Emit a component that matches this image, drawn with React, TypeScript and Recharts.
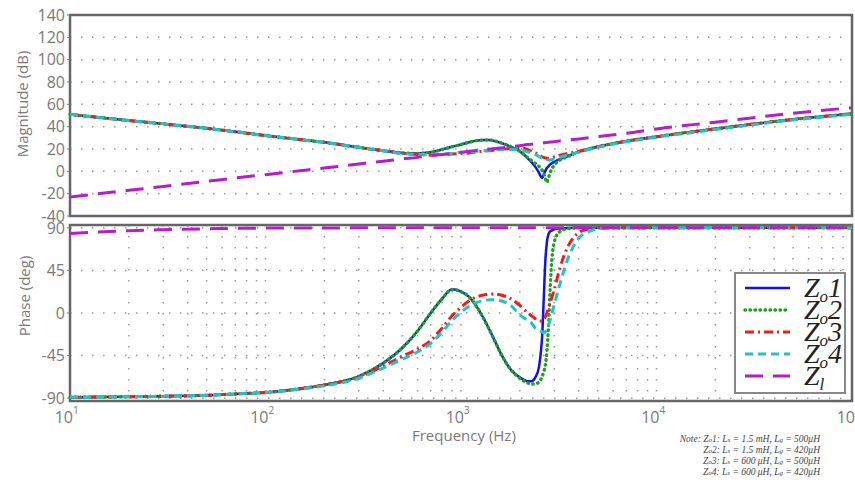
import {
  LineChart,
  Line,
  XAxis,
  YAxis,
  CartesianGrid,
  ReferenceArea,
  Legend,
  Label,
} from "recharts";

// frequency points (Hz)
const freq = [
  10, 20, 30, 50, 70, 100, 150, 200, 300, 400, 500, 600, 700, 800, 900, 1000, 1100, 1200, 1300,
  1400, 1500, 1600, 1800, 2000, 2200, 2300, 2400, 2500, 2550, 2600, 2650, 2700, 2750, 2800, 2850,
  2900, 3000, 3200, 3500, 4000, 4500, 5000, 7000, 10000, 20000, 50000, 100000,
];

// magnitude (dB)
const magZo1 = [
  51, 45.5, 42.5, 38.5, 35.5, 32, 28.5, 26, 21.5, 18.5, 16.5, 16, 17, 19.5, 22, 24, 26, 27.5, 28,
  28, 27, 25.5, 22, 18, 11.5, 8, 4, -1, -4, -6, -3, 0.5, 3, 4.5, 6, 7, 8.5, 11, 13.5, 17.5, 20, 22,
  27, 31, 38, 46.5, 51.5,
];
const magZo2 = [
  51, 45.5, 42.5, 38.5, 35.5, 32, 28.5, 26, 21.5, 18.5, 16.5, 16, 17, 19.5, 22, 24, 26, 27.5, 28,
  28, 27, 25.5, 22, 18, 12, 9.5, 7, 4.5, 3, 1, -2, -6, -10, -6, -2, 1.5, 5.5, 10, 13, 17.5, 20, 22,
  27, 31, 38, 46.5, 51.5,
];
const magZo3 = [
  51, 45.5, 42.5, 38.5, 35.5, 32, 28.5, 26, 21.5, 18.5, 16, 15, 14.5, 15, 15.5, 16, 16.5, 17.5, 18,
  18.5, 19, 19.5, 20.5, 21, 19.5, 18, 16.5, 15, 14, 13, 12.5, 12, 11.8, 11.6, 11.8, 12.2, 13, 14.5,
  16, 18, 20, 22, 27, 31, 38, 46.5, 51.5,
];
const magZo4 = [
  51, 45.5, 42.5, 38.5, 35.5, 32, 28.5, 26, 21.5, 18.5, 16, 15, 15, 15.5, 16, 17, 17.5, 18, 18.5,
  19, 19.5, 19.5, 19.5, 19, 17.5, 16.5, 15, 13.5, 12.8, 12, 11.5, 11, 10.5, 10.2, 10.2, 10.5, 11,
  12.5, 14.5, 17, 19.5, 21.5, 26.5, 30.5, 37.5, 46, 51,
];
const magZl = [
  -23, -17, -13.5, -9, -6, -3, 0.5, 3, 6.5, 9, 11, 12.5, 14, 15, 16, 17, 18, 18.7, 19.3, 20, 20.5,
  21, 22, 23, 24, 24.3, 24.7, 25, 25.2, 25.4, 25.5, 25.7, 25.9, 26, 26.2, 26.3, 26.6, 27.2, 28, 29,
  30, 31, 34, 38, 44, 52, 57,
];

// phase (deg)
const phZo1 = [
  -89, -88.5, -88, -87, -85.5, -84, -80, -76, -67, -53, -37, -19, 0, 15, 25, 22.5, 17, 7, -5, -18,
  -31, -43, -60, -68, -72, -72, -68, -58, -45, -25, 15, 55, 75, 83, 86, 87, 88.5, 89.3, 89.7, 90,
  90, 90, 90, 90, 90, 90, 90,
];
const phZo2 = [
  -89, -88.5, -88, -87, -85.5, -84, -80, -76, -67, -53, -37, -19, 0, 15, 25, 22.5, 17, 7, -5, -18,
  -31, -43, -60, -69, -74, -75, -75, -73, -71, -67, -62, -55, -40, -15, 20, 50, 75, 86, 89, 90, 90,
  90, 90, 90, 90, 90, 90,
];
const phZo3 = [
  -89, -88.5, -88, -87, -85.5, -84, -80, -76, -68, -56, -46, -38, -29, -16, -3, 6, 13, 17, 19, 20,
  20, 19, 15, 8, 0, -3, -6, -8, -8.5, -8.5, -7, -4, 0, 5, 10, 15, 25, 47, 69, 85, 89, 90, 90, 90,
  90, 90, 90,
];
const phZo4 = [
  -89, -88.5, -88, -87, -85.5, -84, -80.5, -77, -69, -58, -49, -41, -32, -20, -8, 1, 7, 11, 13, 14,
  14, 13, 8, -2, -8, -11, -16, -18, -19, -20, -21, -20, -17, -13, -8, -2, 9, 30, 56, 79, 86, 89, 90,
  90, 90, 90, 90,
];
const phZl = [
  84, 87, 88, 89, 89.5, 89.7, 89.8, 89.9, 90, 90, 90, 90, 90, 90, 90, 90, 90, 90, 90, 90, 90, 90,
  90, 90, 90, 90, 90, 90, 90, 90, 90, 90, 90, 90, 90, 90, 90, 90, 90, 90, 90, 90, 90, 90, 90, 90,
  90,
];

const magTicks = [-40, -20, 0, 20, 40, 60, 80, 100, 120, 140];
const phaseTicks = [-90, -45, 0, 45, 90];
const decadeTicks = [10, 100, 1000, 10000, 100000];
const gridTicks = [
  10, 20, 30, 40, 50, 60, 70, 80, 90, 100, 200, 300, 400, 500, 600, 700, 800, 900, 1000, 2000, 3000,
  4000, 5000, 6000, 7000, 8000, 9000, 10000, 20000, 30000, 40000, 50000, 60000, 70000, 80000, 90000,
  100000,
];

const series = [
  { key: "zo1", sub: "o", num: "1", color: "#1010f0", dash: undefined, width: 2.5, cap: "butt" },
  { key: "zo2", sub: "o", num: "2", color: "#1fa01f", dash: "0.5 4.5", width: 3.4, cap: "round" },
  { key: "zo3", sub: "o", num: "3", color: "#f01c1c", dash: "9 4 2 4", width: 3, cap: "butt" },
  { key: "zo4", sub: "o", num: "4", color: "#22c2c6", dash: "8 5", width: 3, cap: "butt" },
  { key: "zl", sub: "l", num: "", color: "#b51ec9", dash: "18 10", width: 3, cap: "butt" },
];

const magData = freq.map((f, i) => ({
  f,
  zo1: magZo1[i],
  zo2: magZo2[i],
  zo3: magZo3[i],
  zo4: magZo4[i],
  zl: magZl[i],
}));
const phaseData = freq.map((f, i) => ({
  f,
  zo1: phZo1[i],
  zo2: phZo2[i],
  zo3: phZo3[i],
  zo4: phZo4[i],
  zl: phZl[i],
}));

const GREY = "#7a7a7a";
const FRAME = "#666";
const sans = "'Open Sans', sans-serif";
const serif = "'Liberation Serif', 'Times New Roman', serif";
const tickStyle = { fill: GREY, fontSize: 16, fontFamily: sans };

function DecadeTick(props: any) {
  const { x, y, payload } = props;
  if (!decadeTicks.includes(payload.value)) return null;
  const exp = Math.round(Math.log10(payload.value));
  return (
    <g fill={GREY} fontFamily={sans}>
      <text x={x + 3} y={y + 14} textAnchor="end" fontSize={16}>
        10
      </text>
      <text x={x + 3} y={y + 5} textAnchor="start" fontSize={10}>
        {exp}
      </text>
    </g>
  );
}

function LegendBox() {
  return (
    <svg width={114} height={124} style={{ overflow: "visible", display: "block" }}>
      <rect x={1} y={1} width={110} height={120} fill="#fff" stroke="#888" strokeWidth={2} />
      {series.map((s, i) => {
        const cy = 16 + i * 22;
        return (
          <g key={s.key}>
            <line
              x1={11}
              x2={56}
              y1={cy}
              y2={cy}
              stroke={s.color}
              strokeWidth={s.width}
              strokeDasharray={s.dash}
              strokeLinecap={s.cap as any}
            />
            <text x={70} y={cy + 9} fontFamily={serif} fontStyle="italic" fontSize={28} fill="#222">
              Z
              <tspan fontSize={17} dy={5}>
                {s.sub}
              </tspan>
              <tspan dy={-5}>{s.num}</tspan>
            </text>
          </g>
        );
      })}
    </svg>
  );
}

function Frame({ y1, y2 }: { y1: number; y2: number }) {
  return (
    <ReferenceArea
      x1={10}
      x2={100000}
      y1={y1}
      y2={y2}
      fill="none"
      fillOpacity={0}
      stroke={FRAME}
      strokeWidth={2.5}
      ifOverflow="visible"
    />
  );
}

function renderLines() {
  return series.map((s) => (
    <Line
      key={s.key}
      dataKey={s.key}
      type="monotone"
      stroke={s.color}
      strokeWidth={s.width}
      strokeDasharray={s.dash}
      strokeLinecap={s.cap as any}
      dot={false}
      activeDot={false}
      isAnimationActive={false}
    />
  ));
}

const gridProps = { stroke: "#9a9a9a", strokeWidth: 1.5, strokeDasharray: "1.5 9.5" };

export default function App() {
  return (
    <div style={{ position: "relative", width: 855, height: 491, background: "#fff", overflow: "hidden" }}>
      <style>{"body{margin:0;overflow:hidden}svg.recharts-surface{overflow:visible}"}</style>

      <div style={{ position: "absolute", left: 0, top: 0, zIndex: 2 }}>
        <LineChart width={855} height={218} data={magData} margin={{ top: 15, right: 3, bottom: 2, left: 0 }}>
          <CartesianGrid {...gridProps} />
          <XAxis
            dataKey="f"
            type="number"
            scale="log"
            domain={[10, 100000]}
            ticks={gridTicks}
            interval={0}
            height={0}
            mirror
            tick={false}
            axisLine={false}
            tickLine={{ stroke: FRAME }}
            tickSize={4}
          />
          <XAxis
            xAxisId="top"
            orientation="top"
            dataKey="f"
            type="number"
            scale="log"
            domain={[10, 100000]}
            ticks={gridTicks}
            interval={0}
            height={0}
            mirror
            tick={false}
            axisLine={false}
            tickLine={{ stroke: FRAME }}
            tickSize={4}
          />
          <YAxis
            width={70}
            type="number"
            domain={[-40, 140]}
            ticks={magTicks}
            interval={0}
            axisLine={false}
            tickLine={{ stroke: GREY }}
            tickSize={3}
            tick={tickStyle}
          >
            <Label
              content={() => (
                <text
                  x={22}
                  y={104}
                  transform="rotate(-90 22 104)"
                  textAnchor="middle"
                  dominantBaseline="central"
                  fill={GREY}
                  fontSize={15}
                  fontFamily={sans}
                >
                  Magnitude (dB)
                </text>
              )}
            />
          </YAxis>
          <Frame y1={-40} y2={140} />
          {renderLines()}
        </LineChart>
      </div>

      <div style={{ position: "absolute", left: 0, top: 218, zIndex: 1 }}>
        <LineChart width={855} height={273} data={phaseData} margin={{ top: 7, right: 3, bottom: 0, left: 0 }}>
          <CartesianGrid {...gridProps} />
          <XAxis
            dataKey="f"
            type="number"
            scale="log"
            domain={[10, 100000]}
            ticks={gridTicks}
            interval={0}
            height={90}
            axisLine={false}
            tickLine={false}
            tick={<DecadeTick />}
          />
          <XAxis
            xAxisId="top"
            orientation="top"
            dataKey="f"
            type="number"
            scale="log"
            domain={[10, 100000]}
            ticks={gridTicks}
            interval={0}
            height={0}
            mirror
            tick={false}
            axisLine={false}
            tickLine={{ stroke: FRAME }}
            tickSize={4}
          />
          <YAxis
            width={70}
            type="number"
            domain={[-93, 93]}
            ticks={phaseTicks}
            interval={0}
            axisLine={false}
            tickLine={{ stroke: GREY }}
            tickSize={3}
            tick={tickStyle}
          >
            <Label
              content={() => (
                <text
                  x={24}
                  y={78}
                  transform="rotate(-90 24 78)"
                  textAnchor="middle"
                  dominantBaseline="central"
                  fill={GREY}
                  fontSize={15}
                  fontFamily={sans}
                >
                  Phase (deg)
                </text>
              )}
            />
          </YAxis>
          <Frame y1={-93} y2={93} />
          {renderLines()}
          <Legend
            layout="vertical"
            align="center"
            verticalAlign="middle"
            content={() => <LegendBox />}
            wrapperStyle={{ left: 734, top: 54, width: 114, height: 124 }}
          />
        </LineChart>
      </div>

      <div
        style={{
          position: "absolute",
          left: 412,
          top: 425,
          fontFamily: sans,
          fontSize: 15,
          lineHeight: "20px",
          color: GREY,
          whiteSpace: "nowrap",
        }}
      >
        Frequency (Hz)
      </div>

      <div
        style={{
          position: "absolute",
          right: 855 - 820,
          top: 434,
          fontFamily: serif,
          fontStyle: "italic",
          fontSize: 9.5,
          lineHeight: "10px",
          color: "#444",
          textAlign: "right",
          whiteSpace: "nowrap",
        }}
      >
        <div>
          Note: Z<span style={{ fontSize: 7 }}>o</span>1: L<span style={{ fontSize: 7 }}>s</span> = 1.5 mH, L
          <span style={{ fontSize: 7 }}>g</span> = 500μH
        </div>
        <div>
          Z<span style={{ fontSize: 7 }}>o</span>2: L<span style={{ fontSize: 7 }}>s</span> = 1.5 mH, L
          <span style={{ fontSize: 7 }}>g</span> = 420μH
        </div>
        <div>
          Z<span style={{ fontSize: 7 }}>o</span>3: L<span style={{ fontSize: 7 }}>s</span> = 600 μH, L
          <span style={{ fontSize: 7 }}>g</span> = 500μH
        </div>
        <div>
          Z<span style={{ fontSize: 7 }}>o</span>4: L<span style={{ fontSize: 7 }}>s</span> = 600 μH, L
          <span style={{ fontSize: 7 }}>g</span> = 420μH
        </div>
      </div>
    </div>
  );
}
